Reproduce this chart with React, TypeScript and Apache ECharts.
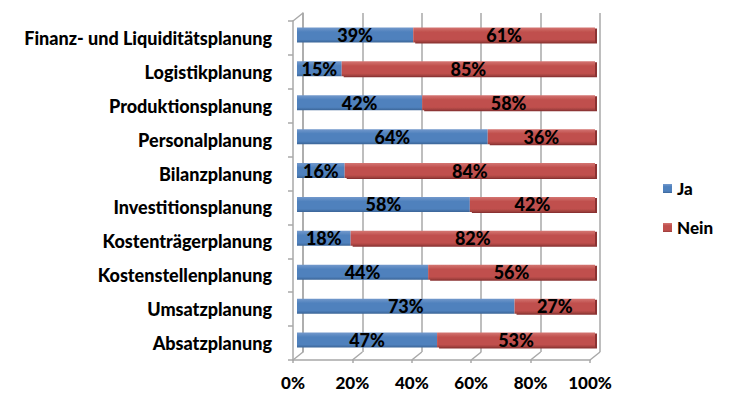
import React, { useEffect, useRef } from "react";
import * as echarts from "echarts";

// Planning areas, bottom to top as they appear on the axis
const categories = [
  "Absatzplanung",
  "Umsatzplanung",
  "Kostenstellenplanung",
  "Kostenträgerplanung",
  "Investitionsplanung",
  "Bilanzplanung",
  "Personalplanung",
  "Produktionsplanung",
  "Logistikplanung",
  "Finanz- und Liquiditätsplanung",
];
const jaValues = [47, 73, 44, 18, 58, 16, 64, 42, 15, 39];
const neinValues = [53, 27, 56, 82, 42, 84, 36, 58, 85, 61];
const percentTicks = [0, 20, 40, 60, 80, 100];

const FONT = "Lato";
const WALL = "#a8a8a8";
// depth of the pseudo-3D wall, in pixels
const DEPTH_X = 10;
const DEPTH_Y = 8;

const barFill = (light: string, base: string, dark: string) =>
  new echarts.graphic.LinearGradient(0, 0, 0, 1, [
    { offset: 0, color: light },
    { offset: 0.3, color: base },
    { offset: 0.8, color: base },
    { offset: 1, color: dark },
  ]);

const valueLabel = {
  show: true,
  position: "inside",
  formatter: "{c}%",
  fontFamily: FONT,
  fontWeight: 900,
  fontSize: 18,
  color: "#000",
};

export default function App() {
  const ref = useRef<HTMLDivElement>(null);

  useEffect(() => {
    if (!ref.current) return;
    const chart = echarts.init(ref.current, null, { renderer: "svg" });

    const front = { left: 293, top: 21, width: 297, height: 339 };
    const back = {
      left: front.left + DEPTH_X,
      top: front.top - DEPTH_Y,
      width: front.width,
      height: front.height,
    };
    const bars = { left: 297, top: 18, width: 298, height: 339 };

    chart.setOption({
      animation: false,
      backgroundColor: "#ffffff",
      textStyle: { fontFamily: FONT },
      legend: {
        data: ["Ja", "Nein"],
        orient: "vertical",
        left: 658,
        top: 175,
        itemWidth: 9,
        itemHeight: 9,
        itemGap: 22,
        icon: "rect",
        textStyle: { fontFamily: FONT, fontWeight: 900, fontSize: 17, color: "#000" },
      },
      grid: [
        { ...front, containLabel: false },
        { ...back, containLabel: false },
        { ...bars, containLabel: false },
      ],
      xAxis: [
        {
          gridIndex: 0,
          type: "value",
          min: 0,
          max: 100,
          interval: 20,
          axisLine: { show: true, lineStyle: { color: WALL, width: 1.5 } },
          axisTick: { show: true, length: 3, lineStyle: { color: WALL, width: 1.5 } },
          splitLine: { show: false },
          axisLabel: {
            formatter: "{value}%",
            margin: 14,
            fontFamily: FONT,
            fontWeight: 900,
            fontSize: 17,
            color: "#000",
          },
        },
        {
          gridIndex: 1,
          type: "value",
          min: 0,
          max: 100,
          interval: 20,
          axisLine: { show: false },
          axisTick: { show: false },
          axisLabel: { show: false },
          splitLine: { show: true, lineStyle: { color: WALL, width: 1.5 } },
        },
        {
          gridIndex: 2,
          type: "value",
          min: 0,
          max: 100,
          show: false,
        },
      ],
      yAxis: [
        {
          gridIndex: 0,
          type: "category",
          data: categories,
          axisLine: { show: true, lineStyle: { color: WALL, width: 1.5 } },
          axisTick: { show: true, length: 5, lineStyle: { color: WALL, width: 1.5 } },
          axisLabel: {
            margin: 21,
            fontFamily: FONT,
            fontWeight: 900,
            fontSize: 18,
            color: "#000",
          },
        },
        {
          gridIndex: 1,
          type: "category",
          data: categories,
          axisLine: { show: true, lineStyle: { color: WALL, width: 1.5 } },
          axisTick: { show: false },
          axisLabel: { show: false },
        },
        {
          gridIndex: 2,
          type: "category",
          data: categories,
          show: false,
        },
      ],
      series: [
        {
          // floor and wall edges joining the front axes to the back wall
          type: "custom",
          xAxisIndex: 0,
          yAxisIndex: 0,
          silent: true,
          z: 1,
          data: percentTicks,
          renderItem: (params: any, api: any) => {
            const v = api.value(0);
            const p = api.coord([v, 0]);
            const band = api.size([0, 1])[1];
            const yb = p[1] + band / 2;
            const style = { stroke: WALL, lineWidth: 1.5 };
            const children: any[] = [
              {
                type: "line",
                shape: { x1: p[0], y1: yb, x2: p[0] + DEPTH_X, y2: yb - DEPTH_Y },
                style,
              },
            ];
            if (v === 0) {
              const top = api.coord([0, categories.length - 1]);
              const yt = top[1] - band / 2;
              children.push({
                type: "line",
                shape: { x1: p[0], y1: yt, x2: p[0] + DEPTH_X, y2: yt - DEPTH_Y },
                style,
              });
            }
            return { type: "group", children };
          },
        },
        {
          name: "Ja",
          type: "bar",
          stack: "total",
          xAxisIndex: 2,
          yAxisIndex: 2,
          barWidth: 15,
          z: 3,
          data: jaValues,
          itemStyle: {
            color: barFill("#7399cc", "#4f81bd", "#3b6597"),
          },
          label: valueLabel,
        },
        {
          name: "Nein",
          type: "bar",
          stack: "total",
          xAxisIndex: 2,
          yAxisIndex: 2,
          barWidth: 15,
          z: 3,
          data: neinValues,
          itemStyle: {
            color: barFill("#d47572", "#c0504d", "#983c3a"),
            shadowColor: "#8a3331",
            shadowOffsetX: 2,
            shadowOffsetY: 1,
            shadowBlur: 0,
          },
          label: valueLabel,
        },
      ],
    });

    return () => chart.dispose();
  }, []);

  return (
    <div
      ref={ref}
      style={{ position: "fixed", left: 0, top: 0, width: 733, height: 400 }}
    />
  );
}
